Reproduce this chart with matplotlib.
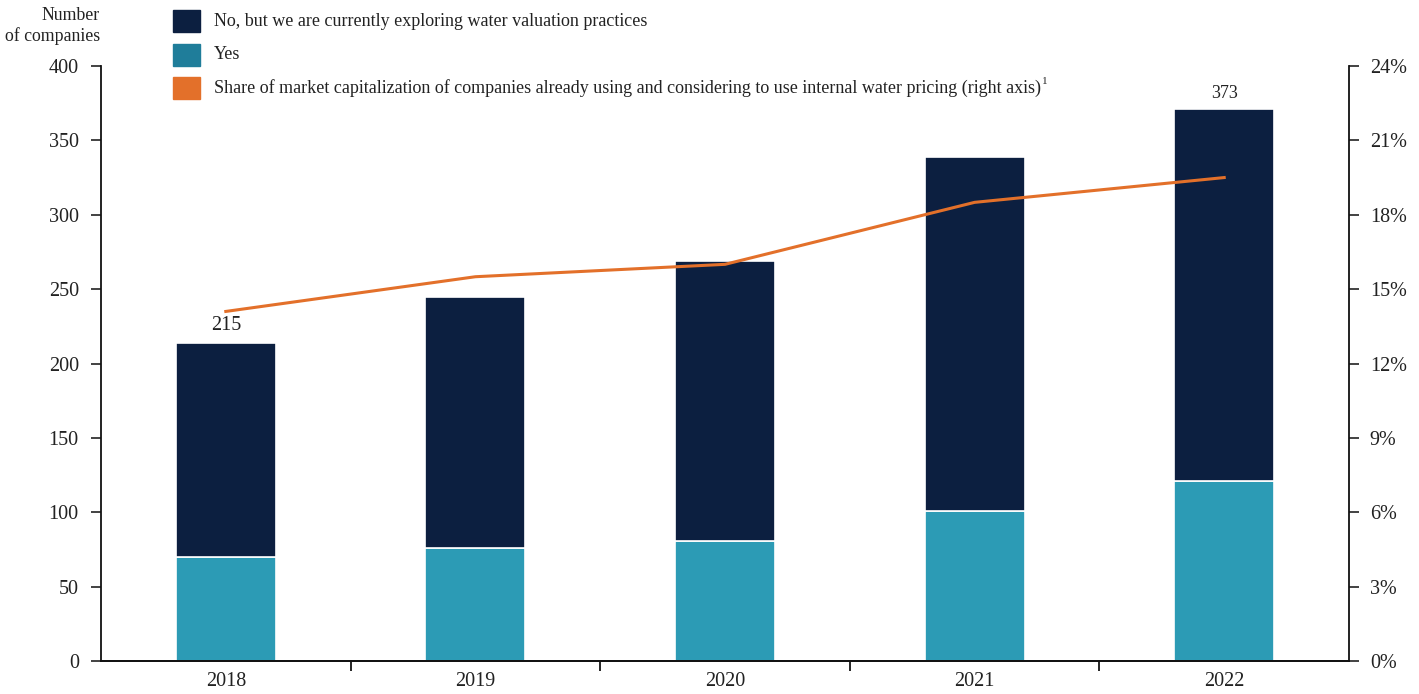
import matplotlib
matplotlib.use("Agg")
import matplotlib.pyplot as plt
from matplotlib.patches import Rectangle
from matplotlib.ticker import FuncFormatter, MultipleLocator, FixedLocator

plt.rcParams['font.family'] = ['Liberation Serif', 'DejaVu Serif']

years = ["2018", "2019", "2020", "2021", "2022"]
yes_vals = [70, 76, 81, 101, 121]
no_vals = [144, 169, 188, 238, 250]
share_pct = [14.1, 15.5, 16.0, 18.5, 19.5]
total_labels = {0: "215", 4: "373"}

legend_labels = ["No, but we are currently exploring water valuation practices",
                 "Yes",
                 "Share of market capitalization of companies already using and considering to use internal water pricing (right axis)"]

c_no = "#0c1f40"
c_yes = "#2c9bb5"
c_yes_leg = "#1f7d9a"
c_line = "#e3702a"

W, H = 1419, 694
fig = plt.figure(figsize=(W/100, H/100), dpi=100)
ax = fig.add_axes([101/W, 1-661/H, (1349-101)/W, (661-66)/H])
ax2 = ax.twinx()

x = list(range(len(years)))
ax.bar(x, yes_vals, width=0.4, color=c_yes, edgecolor="white", linewidth=1.2, zorder=2)
ax.bar(x, no_vals, bottom=yes_vals, width=0.4, color=c_no, edgecolor="white", linewidth=1.2, zorder=2)

for i, lab in total_labels.items():
    tot = yes_vals[i] + no_vals[i]
    ax.text(i, tot + 5, lab, ha="center", va="bottom", fontsize=14.5 if i == 0 else 13, color="#222222")

ax2.plot(x, share_pct, color=c_line, linewidth=2.2, zorder=3)

ax.set_xlim(-0.5, 4.5)
ax.set_ylim(0, 400)
ax2.set_ylim(0, 24)
ax.yaxis.set_major_locator(MultipleLocator(50))
ax2.yaxis.set_major_locator(MultipleLocator(3))
ax2.yaxis.set_major_formatter(FuncFormatter(lambda v, p: f"{int(round(v))}%"))

ax.set_xticks(x)
ax.set_xticklabels(years)
ax.xaxis.set_minor_locator(FixedLocator([0.5, 1.5, 2.5, 3.5]))
ax.tick_params(axis="x", which="major", length=0, labelsize=14.5, pad=8, colors="#222222")
ax.tick_params(axis="x", which="minor", length=7, width=1.2, direction="out")
ax.tick_params(axis="y", length=7, width=1.2, labelsize=14.5, pad=9, colors="#222222")
ax2.tick_params(axis="y", length=7, width=1.2, labelsize=14.5, pad=8, colors="#222222")
for a in (ax, ax2):
    a.spines["top"].set_visible(False)
    for s in ("left", "right", "bottom"):
        a.spines[s].set_linewidth(1.3)
        a.spines[s].set_color("#111111")
ax2.spines["left"].set_visible(False)
ax.spines["right"].set_visible(False)

fig.text(100/W, 1-7/H, "Number\nof companies", ha="right", va="top", fontsize=12.8, color="#222222", linespacing=1.25)

leg_colors = [c_no, c_yes_leg, c_line]
for k, (lab, col) in enumerate(zip(legend_labels, leg_colors)):
    y0 = 10 + k*33.5
    fig.add_artist(Rectangle((173/W, 1-(y0+22)/H), 27/W, 22/H, transform=fig.transFigure, color=col))
    t = fig.text(214/W, 1-(y0+11)/H, lab, ha="left", va="center", fontsize=13, color="#222222")
    if k == 2:
        fig.canvas.draw()
        bb = t.get_window_extent()
        fig.text(bb.x1/W + 1/W, 1-(y0+5)/H, "1", ha="left", va="center", fontsize=8, color="#222222")

fig.savefig("out.png", dpi=100)
